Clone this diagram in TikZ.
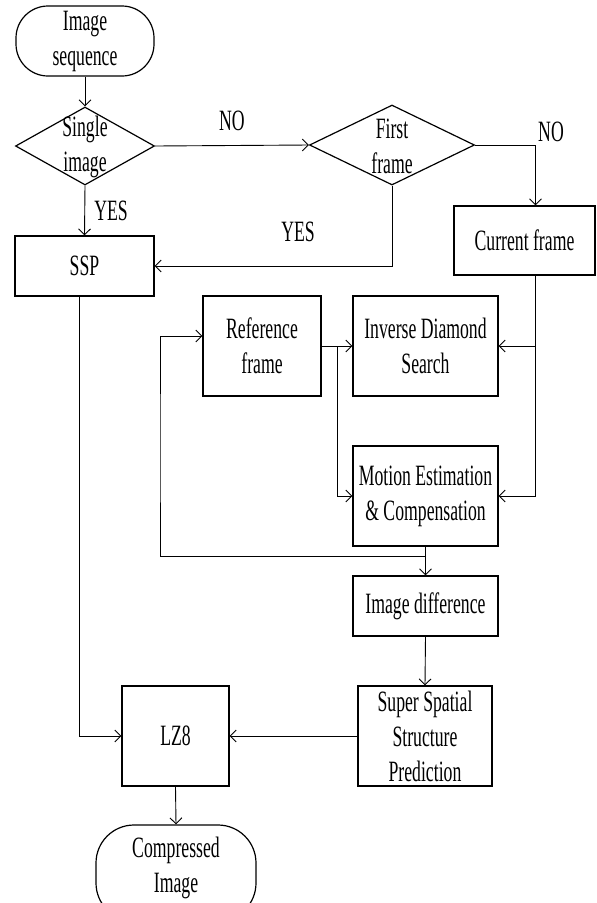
\documentclass[tikz,border=0pt]{standalone}
\usepackage{fontspec}
\setmainfont[FakeStretch=0.6]{Liberation Serif}
\usetikzlibrary{shapes.geometric,arrows.meta}
\tikzset{
  txt/.style={font=\fontsize{29.5}{35}\selectfont, align=center, inner sep=0pt},
  box/.style={draw, line width=1.2pt, txt},
  term/.style={box, rounded corners=32pt},
  dia/.style={draw, diamond, line width=1.2pt, inner sep=0pt},
  ln/.style={line width=0.9pt},
  arr/.style={ln, -{Straight Barb[length=6pt,width=12pt]}},
}
\begin{document}
\begin{tikzpicture}[x=1pt,y=-1pt]
\useasboundingbox (0,0) rectangle (597,903);
% nodes
\node[term, minimum width=138pt, minimum height=70pt] (start) at (85,41) {Image\\sequence};
\node[dia, minimum width=139pt, minimum height=78pt] (d1) at (85,146) {};
\node[txt] (d1t) at (85,147) {Single\\image};
\node[dia, minimum width=165pt, minimum height=80pt] (d2) at (392,145) {};
\node[txt] (d2t) at (392,146) {First\\frame};
\node[box, minimum width=139pt, minimum height=60pt] (ssp) at (84.5,266) {SSP};
\node[box, minimum width=141pt, minimum height=69pt] (cur) at (524.5,240.5) {Current frame};
\node[box, minimum width=118pt, minimum height=100pt] (ref) at (262,346) {Reference\\frame};
\node[box, minimum width=145pt, minimum height=100pt] (ids) at (425.5,346) {Inverse Diamond\\Search};
\node[box, minimum width=145pt, minimum height=100pt] (me) at (425.5,496) {Motion Estimation\\\& Compensation};
\node[box, minimum width=145pt, minimum height=60pt] (idiff) at (425.5,606) {Image difference};
\node[box, minimum width=134pt, minimum height=100pt] (sssp) at (425,736) {Super Spatial\\Structure\\Prediction};
\node[box, minimum width=107pt, minimum height=100pt] (lz8) at (175.5,736) {LZ8};
\node[term, rounded corners=38pt, minimum width=160pt, minimum height=96pt] (comp) at (176,873) {};
\node[txt] (compt) at (176,868) {Compressed\\Image};
% labels
\node[txt] (no1) at (232,121) {NO};
\node[txt] (yes1) at (111,211) {YES};
\node[txt] (yes2) at (298,232) {YES};
\node[txt] (no2) at (551,132) {NO};
% connectors
\draw[arr] (start) -- (d1);
\draw[arr] (d1.east) -- (d2.west);
\draw[arr] (d1.south) -- (ssp.north);
\coordinate (cx) at ([xshift=11pt]cur.north);
\draw[arr] (d2.east) -| (cx);
\draw[arr] (d2.south) |- (ssp.east);
\coordinate (cy) at ([xshift=11pt]cur.south);
\draw[arr] (cy) |- (me.east);
\draw[arr] (cy |- ids.east) -- (ids.east);
\draw[arr] (ref.east) -- (ids.west);
\coordinate (br) at (337,346);
\draw[arr] (br) |- (me.west);
\draw[arr] (me.south) -- (idiff.north);
\coordinate (fb) at (426,556);
\draw[arr] (fb) -| (160,450) |- ([yshift=10pt]ref.west);
\draw[arr] (idiff.south) -- (sssp.north);
\draw[arr] (sssp.west) -- (lz8.east);
\draw[arr] ([xshift=-5pt]ssp.south) |- (lz8.west);
\draw[arr] (lz8.south) -- (comp.north);
\end{tikzpicture}
\end{document}
